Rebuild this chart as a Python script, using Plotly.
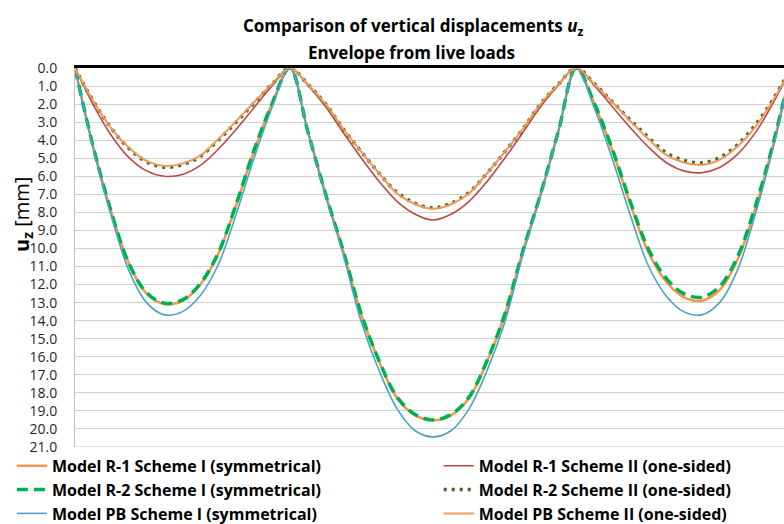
import plotly.graph_objects as go

# positions along the bridge [m] (spans 30 / 40 / 30 m)
x_m = [0, 2.5, 5, 7.5, 10, 12.5, 15, 17.5, 20, 22.5, 25, 27.5,
       30, 32.5, 35, 37.5, 40, 42.5, 45, 47.5, 50, 52.5, 55, 57.5, 60, 62.5, 65, 67.5,
       70, 72.5, 75, 77.5, 80, 82.5, 85, 87.5, 90, 92.5, 95, 97.5, 100]

r1_s1 = [0, 4.3, 7.9, 10.8, 12.5, 13.08, 12.9, 12.0, 10.3, 7.6, 4.6, 2.0,
         0, 3.5, 7.0, 10.2, 13.7, 16.3, 18.3, 19.25, 19.52, 19.25, 18.3, 16.3, 13.7, 10.2, 7.0, 3.5,
         0, 1.97, 4.53, 7.49, 10.15, 11.82, 12.7, 12.9, 12.31, 10.64, 7.78, 4.24, 0]
r1_s2 = [0, 2.0, 3.7, 4.95, 5.7, 6.0, 5.9, 5.4, 4.5, 3.4, 2.2, 1.0,
         0, 0.95, 2.15, 3.6, 5.0, 6.3, 7.4, 8.1, 8.42, 8.1, 7.4, 6.3, 5.0, 3.6, 2.15, 0.95,
         0, 0.97, 2.13, 3.29, 4.35, 5.22, 5.7, 5.8, 5.51, 4.79, 3.58, 1.93, 0]
r2_s1 = [0, 4.3, 7.9, 10.8, 12.45, 13.03, 12.85, 11.95, 10.25, 7.55, 4.55, 2.0,
         0, 3.5, 7.0, 10.2, 13.65, 16.25, 18.25, 19.2, 19.5, 19.2, 18.25, 16.25, 13.65, 10.2, 7.0, 3.5,
         0, 1.94, 4.46, 7.37, 9.98, 11.63, 12.5, 12.7, 12.11, 10.47, 7.66, 4.17, 0]
r2_s2 = [0, 1.8, 3.3, 4.45, 5.2, 5.5, 5.35, 4.9, 4.0, 3.0, 1.95, 0.9,
         0, 0.9, 2.0, 3.4, 4.65, 5.85, 6.9, 7.5, 7.75, 7.5, 6.9, 5.85, 4.65, 3.4, 2.0, 0.9,
         0, 0.86, 1.86, 2.87, 3.82, 4.68, 5.11, 5.26, 4.97, 4.25, 3.15, 1.72, 0]
pb_s1 = [0, 4.4, 8.1, 11.2, 13.0, 13.68, 13.5, 12.6, 10.9, 8.1, 5.0, 2.2,
         0, 3.5, 7.1, 10.4, 14.1, 16.8, 18.9, 20.1, 20.44, 20.1, 18.9, 16.8, 14.1, 10.4, 7.1, 3.5,
         0, 2.2, 5.0, 8.1, 10.9, 12.6, 13.5, 13.68, 13.0, 11.2, 8.1, 4.4, 0]
pb_s2 = [0, 1.8, 3.3, 4.4, 5.15, 5.43, 5.3, 4.85, 3.95, 2.95, 1.9, 0.9,
         0, 0.9, 2.0, 3.4, 4.65, 5.85, 6.95, 7.55, 7.8, 7.55, 6.95, 5.85, 4.65, 3.4, 2.0, 0.9,
         0, 0.89, 1.88, 2.92, 3.91, 4.8, 5.24, 5.37, 5.09, 4.35, 3.26, 1.78, 0]

y_ticks = [float(v) for v in range(0, 22)]

series = [
    ("Model R-1 Scheme I (symmetrical)", r1_s1, dict(color="#F79646", width=2.5), "legend"),
    ("Model R-1 Scheme II (one-sided)", r1_s2, dict(color="#B94A48", width=1.6), "legend2"),
    ("Model R-2 Scheme I (symmetrical)", r2_s1, dict(color="#00B050", width=3.5, dash="11px,6px"), "legend"),
    ("Model R-2 Scheme II (one-sided)", r2_s2, dict(color="#4F6228", width=3.5, dash="3px,5px"), "legend2"),
    ("Model PB Scheme I (symmetrical)", pb_s1, dict(color="#4BA3C3", width=1.6), "legend"),
    ("Model PB Scheme II (one-sided)", pb_s2, dict(color="#EC9A58", width=2), "legend2"),
]

fig = go.Figure()
for name, vals, line, lg in series:
    fig.add_trace(go.Scatter(x=x_m, y=vals, mode="lines", name=name, legend=lg,
                             line=dict(shape="spline", smoothing=1.0, **line)))

font_family = "'Open Sans', Lato, sans-serif"
legend_common = dict(orientation="v", yanchor="top", y=-0.005, xanchor="left",
                     font=dict(size=16, family=font_family, color="#000000", weight="bold"),
                     itemwidth=30, bgcolor="rgba(0,0,0,0)", tracegroupgap=0)

fig.update_layout(
    width=784, height=524,
    margin=dict(l=75, r=0, t=68, b=77, autoexpand=False),
    paper_bgcolor="white", plot_bgcolor="white",
    font=dict(family=font_family, color="#000000"),
    showlegend=True,
    legend=dict(x=-0.089, **legend_common),
    legend2=dict(x=0.513, **legend_common),
    xaxis=dict(range=[0, 99], side="top", showline=True, linecolor="#000000", linewidth=2.5,
               showticklabels=False, ticks="", showgrid=False, zeroline=False, automargin=False),
    yaxis=dict(range=[21, 0], tickvals=y_ticks, tickformat=".1f", showgrid=True,
               gridcolor="#D0D0D0", gridwidth=1, showline=True, linecolor="#BFBFBF", linewidth=1,
               mirror=False, ticks="", zeroline=False, automargin=False, ticklabelstandoff=14,
               tickfont=dict(size=14, color="#262626", family=font_family)),
    annotations=[
        dict(text="<b>Comparison of vertical displacements <i>u</i><sub>z</sub></b>",
             xref="paper", yref="paper", x=(413 - 75) / 709, y=1 + (68 - 27) / 379,
             xanchor="center", yanchor="middle", showarrow=False,
             font=dict(size=17, family=font_family, color="#000000")),
        dict(text="<b>Envelope from live loads</b>",
             xref="paper", yref="paper", x=(411 - 75) / 709, y=1 + (68 - 52) / 379,
             xanchor="center", yanchor="middle", showarrow=False,
             font=dict(size=17, family=font_family, color="#000000")),
        dict(text="<b>u<sub>z</sub></b> [mm]", textangle=-90,
             xref="paper", yref="paper", x=(22 - 75) / 709, y=(447 - 215) / 379,
             xanchor="center", yanchor="middle", showarrow=False,
             font=dict(size=20, family=font_family, color="#000000")),
    ],
)
fig.add_shape(type="line", xref="paper", yref="y", x0=0, x1=1, y0=21, y1=21,
              line=dict(color="#C8C8C8", width=1))

# remove the browser's default 8 px body margin so the 784x524 figure fills the window
fig.write_html("out.html",
               config={"displayModeBar": False},
               post_script="document.body.style.margin='0';document.body.style.overflow='hidden';")
